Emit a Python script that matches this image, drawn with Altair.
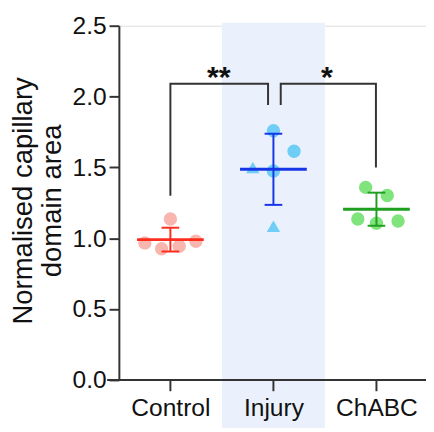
import json
import altair as alt
import pandas as pd

# ---- data ----
groups = ["Control", "Injury", "ChABC"]
control_vals = [1.136, 0.967, 0.926, 0.944, 0.979]
injury_vals = [1.759, 1.614, 1.500, 1.475, 1.085]
chabc_vals = [1.359, 1.302, 1.136, 1.106, 1.122]
injury_shapes = ["circle", "circle", "triangle-up", "circle", "triangle-up"]

# beeswarm horizontal offsets (pixels) of each point
control_off = [0, -26, -9, 9, 26]
injury_off = [0, 21, -21, 0, 0]
chabc_off = [-11, 11, -19, 0, 22]

highlight = "Injury"

# significance brackets
bracket_x = [[1.0, 1.0, 1.948, 1.948], [2.071, 2.071, 2.995, 2.995]]
bracket_y = [[1.30, 2.09, 2.09, 1.94], [1.94, 2.09, 2.09, 1.50]]
stars = ["**", "*"]
star_x = [1.47, 2.52]
star_y = [2.13, 2.13]

point_colors = ["#F8B6AF", "#6FCDF6", "#7EE47B"]
line_colors = ["#FF2B1C", "#1535E6", "#1F9E1F"]

FONT = "Liberation Sans"
STEP = 105.0  # pixels per category step

# ---- tables ----
rows = []
for g, vals, offs, shapes in [
    ("Control", control_vals, control_off, ["circle"] * 5),
    ("Injury", injury_vals, injury_off, injury_shapes),
    ("ChABC", chabc_vals, chabc_off, ["circle"] * 5),
]:
    for v, o, s in zip(vals, offs, shapes):
        rows.append({"group": g, "pos": groups.index(g) + 1, "value": v, "off": o, "shape": s})
pts = pd.DataFrame(rows)

brows = []
for b, (xs, ys) in enumerate(zip(bracket_x, bracket_y)):
    for i, (xv, yv) in enumerate(zip(xs, ys)):
        brows.append({"b": b, "i": i, "bx": xv, "by": yv})
br = pd.DataFrame(brows)

st = pd.DataFrame({"t": stars, "sx": star_x, "sy": star_y})
band = pd.DataFrame({"bpos": [groups.index(highlight) + 1]})

# ---- scales / axes ----
x_scale = alt.Scale(domain=[0.5, 3.481], nice=False, zero=False)
y_scale = alt.Scale(domain=[0, 2.5], nice=False)
x_axis = alt.Axis(
    values=[1, 2, 3],
    labelExpr=json.dumps(groups) + "[datum.value - 1]",
    domain=False, grid=False, title=None, zindex=2,
    tickSize=11, tickWidth=2, tickColor="#333333",
    labelFontSize=25, labelFont=FONT, labelColor="#111111",
    labelPadding=5, labelFlush=False, labelOverlap=False,
)
y_axis = alt.Axis(
    values=[0, 0.5, 1.0, 1.5, 2.0, 2.5], format=".1f",
    grid=False, domainWidth=2, domainColor="#333333", zindex=2,
    tickSize=10, tickWidth=2, tickColor="#333333",
    labelFontSize=25, labelFont=FONT, labelColor="#111111",
    labelPadding=3, labelFlush=False,
    title=["Normalised capillary", "domain area"],
    titleFont=FONT, titleFontSize=28, titleFontWeight="normal", titleColor="#111111",
    titleAngle=270, titleBaseline="alphabetic", titleAlign="center",
    titleX=-89, titleY=178, titleLineHeight=30,
)

def X(field):
    return alt.X(field, type="quantitative", scale=x_scale, axis=x_axis)

def Y(field):
    return alt.Y(field, type="quantitative", scale=y_scale, axis=y_axis)

# background band
band_l = alt.Chart(band).transform_calculate(
    b0="datum.bpos - 0.5", b1="datum.bpos + 0.5"
).mark_rect(color="#EAF1FC").encode(
    x=X("b0"), x2="b1", y=alt.value(-3), y2=alt.value(410)
)

# x axis line
xline = alt.Chart(band).mark_rule(color="#333333", strokeWidth=2).encode(
    x=alt.value(-12), x2=alt.value(313), y=alt.value(361)
)

points = alt.Chart(pts).transform_calculate(
    xp=f"datum.pos + datum.off / {STEP}"
).mark_point(filled=True, opacity=1, size=185).encode(
    x=X("xp"), y=Y("value"),
    color=alt.Color("group:N", scale=alt.Scale(domain=groups, range=point_colors), legend=None),
    shape=alt.Shape("shape:N", scale=None, legend=None),
)

stats = alt.Chart(pts).transform_aggregate(
    m="mean(value)", sd="stdev(value)", groupby=["group", "pos"]
).transform_calculate(lo="datum.m - datum.sd", hi="datum.m + datum.sd")

col_lines = alt.Color("group:N", scale=alt.Scale(domain=groups, range=line_colors), legend=None)

mean_l = stats.mark_rule(strokeWidth=3, xOffset=-34, x2Offset=34).encode(
    x=X("pos"), x2="pos", y=Y("m"), color=col_lines
)
vert_l = stats.mark_rule(strokeWidth=2).encode(
    x=X("pos"), y=Y("lo"), y2="hi", color=col_lines
)
cap_hi = stats.mark_rule(strokeWidth=2, xOffset=-9, x2Offset=9).encode(
    x=X("pos"), x2="pos", y=Y("hi"), color=col_lines
)
cap_lo = stats.mark_rule(strokeWidth=2, xOffset=-9, x2Offset=9).encode(
    x=X("pos"), x2="pos", y=Y("lo"), color=col_lines
)
lines = alt.layer(mean_l, vert_l, cap_hi, cap_lo)

brackets = alt.Chart(br).mark_line(color="#333333", strokeWidth=2).encode(
    x=X("bx"), y=Y("by"), detail="b:N", order="i:Q"
)

star_l = alt.Chart(st).mark_text(
    fontSize=31, fontWeight="bold", font=FONT, color="#111111", baseline="middle", align="center"
).encode(x=X("sx"), y=Y("sy"), text="t:N")

chart = alt.layer(
    band_l, xline, points, lines, brackets, star_l
).resolve_scale(color="independent").properties(
    width=313, height=361,
    autosize=alt.AutoSizeParams(type="none"),
    padding={"left": 113, "top": 14, "right": 0, "bottom": 49},
).configure_view(stroke=None).configure(background="white")

chart.save("out.html", embed_options={"renderer": "svg", "actions": False})
